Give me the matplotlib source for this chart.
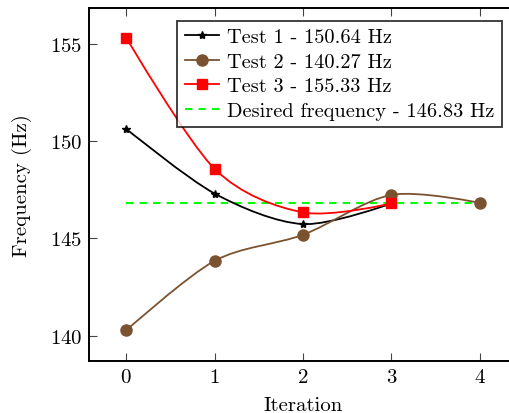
import matplotlib
matplotlib.use("Agg")
import matplotlib.pyplot as plt
from matplotlib.lines import Line2D
from matplotlib.path import Path
from matplotlib.patches import PathPatch

plt.rcParams["font.family"] = "serif"
plt.rcParams["font.serif"] = ["cmr10", "DejaVu Serif"]
plt.rcParams["axes.formatter.use_mathtext"] = True
plt.rcParams["mathtext.fontset"] = "cm"

iterations = [0, 1, 2, 3, 4]
test1 = [150.64, 147.31, 145.74, 146.80]
test2 = [140.27, 143.85, 145.19, 147.24, 146.83]
test3 = [155.33, 148.58, 146.34, 146.80]
desired = 146.83

brown = "#7b5230"


def smooth_path(xs, ys, tension=0.15):
    # smooth bezier curve through the points
    pts = list(zip(xs, ys))
    verts = [pts[0]]
    codes = [Path.MOVETO]
    n = len(pts)
    for i in range(n - 1):
        p0 = pts[i - 1] if i > 0 else pts[i]
        p1 = pts[i]
        p2 = pts[i + 1]
        p3 = pts[i + 2] if i + 2 < n else pts[i + 1]
        if i == 0:
            c1 = p1
        else:
            c1 = (p1[0] + tension * (p2[0] - p0[0]), p1[1] + tension * (p2[1] - p0[1]))
        if i + 2 < n:
            c2 = (p2[0] - tension * (p3[0] - p1[0]), p2[1] - tension * (p3[1] - p1[1]))
        else:
            c2 = p2
        verts += [c1, c2, p2]
        codes += [Path.CURVE4] * 3
    return Path(verts, codes)


fig = plt.figure(figsize=(5.09, 4.14), dpi=100)
ax = fig.add_axes([89 / 509, 52 / 414, 428 / 509, 353 / 414])

series = [
    (test1, "black", "*", 6, "Test 1 - 150.64 Hz"),
    (test2, brown, "o", 8, "Test 2 - 140.27 Hz"),
    (test3, "red", "s", 7, "Test 3 - 155.33 Hz"),
]
handles = []
for vals, col, mk, ms, lab in series:
    xs = iterations[:len(vals)]
    ax.add_patch(PathPatch(smooth_path(xs, vals), facecolor="none",
                           edgecolor=col, lw=1.3, zorder=3))
    ax.plot(xs, vals, ls="none", marker=mk, ms=ms, color=col, zorder=4)
    handles.append(Line2D([], [], color=col, lw=1.3, marker=mk, ms=ms, label=lab))

ax.plot([iterations[0], iterations[-1]], [desired, desired], ls=(0, (3.5, 3)),
        color="#00ff00", lw=1.5, zorder=2)
handles.append(Line2D([], [], color="#00ff00", lw=1.5, ls=(0, (3.5, 3)),
                      label="Desired frequency - 146.83 Hz"))

ax.set_xlim(-0.42, 4.42)
ax.set_ylim(138.7, 156.85)
ax.set_xticks(iterations)
ax.set_yticks([140, 145, 150, 155])
ax.tick_params(direction="in", top=True, right=True, length=6, width=0.8,
               labelsize=15, pad=5, color="#444444")
for s in ax.spines.values():
    s.set_linewidth(1.4)

ax.set_xlabel("Iteration", fontsize=15, labelpad=7)
ax.set_ylabel("Frequency (Hz)", fontsize=15, labelpad=13)

leg = fig.legend(handles=handles, loc="upper right",
                 bbox_to_anchor=(502 / 509, 1 - 22 / 414), fontsize=14.7,
                 frameon=True, fancybox=False, edgecolor="black",
                 handlelength=1.7, handletextpad=0.4, borderpad=0.35,
                 labelspacing=0.3, borderaxespad=0)
leg.get_frame().set_linewidth(1.3)
leg.set_zorder(5)

fig.savefig("out.png", dpi=100)
